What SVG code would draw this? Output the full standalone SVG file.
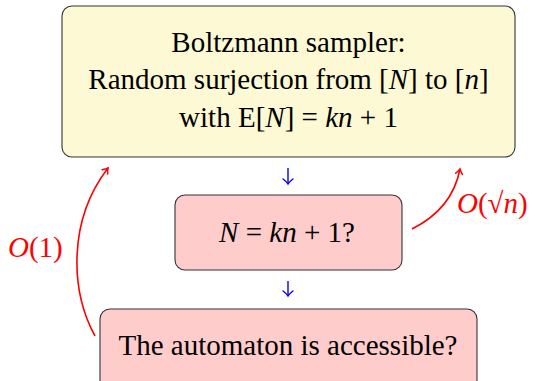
<svg xmlns="http://www.w3.org/2000/svg" width="538" height="381" viewBox="0 0 538 381">
<defs>
<marker id="ra" markerUnits="userSpaceOnUse" markerWidth="14" markerHeight="14" refX="0" refY="0" viewBox="-7 -7 14 14" orient="auto">
<path d="M-5,-3.5 Q-2,-1 0,0 Q-2,1 -5,3.5" fill="none" stroke="#ff0000" stroke-width="1.5" stroke-linecap="round"/>
</marker>
<marker id="ba" markerUnits="userSpaceOnUse" markerWidth="14" markerHeight="14" refX="0" refY="0" viewBox="-7 -7 14 14" orient="auto">
<path d="M-5,-5 Q-2,-1 0,0 Q-2,1 -5,5" fill="none" stroke="#0000ff" stroke-width="1.4" stroke-linecap="round"/>
</marker>
</defs>
<rect width="538" height="381" fill="#fff"/>
<g id="sampler">
<rect x="62" y="6" width="453" height="151" rx="10" fill="#fcf9d4" stroke="#333" stroke-width="1.1"/>
<text x="288.5" y="52" font-family="Liberation Serif" font-size="29" text-anchor="middle">Boltzmann sampler:</text>
<text x="288.5" y="89" font-family="Liberation Serif" font-size="29" text-anchor="middle">Random surjection from [<tspan font-style="italic">N</tspan>] to [<tspan font-style="italic">n</tspan>]</text>
<text x="288.5" y="127" font-family="Liberation Serif" font-size="29" text-anchor="middle">with E[<tspan font-style="italic">N</tspan>] = <tspan font-style="italic">kn</tspan> + 1</text>
</g>
<g id="check">
<rect x="175" y="195" width="227" height="75" rx="10" fill="#ffcccc" stroke="#333" stroke-width="1.1"/>
<text x="287" y="242" font-family="Liberation Serif" font-size="29" text-anchor="middle"><tspan font-style="italic">N</tspan>  =  <tspan font-style="italic">kn</tspan> + 1?</text>
</g>
<g id="accessible">
<rect x="100" y="309" width="377" height="90" rx="10" fill="#ffcccc" stroke="#333" stroke-width="1.1"/>
<text x="288" y="355" font-family="Liberation Serif" font-size="29" text-anchor="middle">The automaton is accessible?</text>
</g>
<g id="connectors" fill="none">
<path d="M288,168 L288,184" stroke="#0000ff" stroke-width="1.4" marker-end="url(#ba)"/>
<path d="M288,281 L288,296" stroke="#0000ff" stroke-width="1.4" marker-end="url(#ba)"/>
<path d="M95,336 C70,290 68,220 108,168" stroke="#ff0000" stroke-width="1.6" marker-end="url(#ra)"/>
<path d="M412,229 C440,215 455,195 460,169" stroke="#ff0000" stroke-width="1.6" marker-end="url(#ra)"/>
</g>
<g id="labels">
<text x="8" y="257" font-family="Liberation Serif" font-size="29" fill="#ff0000"><tspan font-style="italic">O</tspan>(1)</text>
<text x="457" y="213" font-family="Liberation Serif" font-size="29" fill="#ff0000"><tspan font-style="italic">O</tspan>(&#x221A;<tspan font-style="italic">n</tspan>)</text>
</g>
</svg>
